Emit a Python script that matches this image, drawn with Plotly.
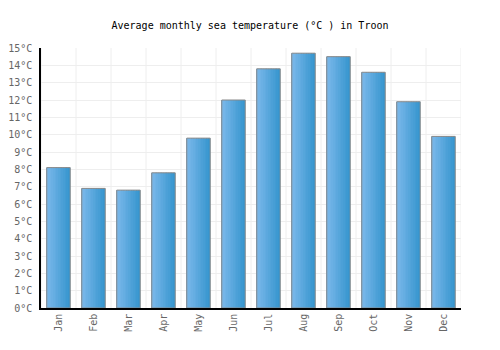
import plotly.graph_objects as go

months = ["Jan", "Feb", "Mar", "Apr", "May", "Jun", "Jul", "Aug", "Sep", "Oct", "Nov", "Dec"]
sea_temp = [8.1, 6.9, 6.8, 7.8, 9.8, 12.0, 13.8, 14.7, 14.5, 13.6, 11.9, 9.9]
y_ticks = list(range(0, 16))
y_labels = [f"{v}°C" for v in y_ticks]

fig = go.Figure()

# simulate horizontal gradient with thin slices
bar_w = 0.67
n = 14
c0 = (0x7a, 0xb8, 0xea)
c1 = (0x38, 0x96, 0xcf)
for k in range(n):
    t = k / (n - 1)
    col = "rgb(%d,%d,%d)" % tuple(round(a + (b - a) * t) for a, b in zip(c0, c1))
    fig.add_trace(go.Bar(
        x=months, y=sea_temp,
        width=bar_w / n + 0.002,
        offset=-bar_w / 2 + k * bar_w / n,
        marker=dict(color=col, line=dict(width=0)),
        hoverinfo="skip", showlegend=False,
    ))
fig.add_trace(go.Bar(
    x=months, y=sea_temp, width=bar_w, offset=-bar_w / 2,
    marker=dict(color="rgba(0,0,0,0)", line=dict(color="#888888", width=1)),
    showlegend=False,
))

font = "DejaVu Sans Mono"
fig.update_layout(
    barmode="overlay",
    width=500, height=350,
    margin=dict(l=41, r=39, t=48, b=42),
    paper_bgcolor="white", plot_bgcolor="white",
    title=dict(text="Average monthly sea temperature (°C ) in Troon",
               x=0.5, xanchor="center", y=1 - 25 / 350, yanchor="middle",
               font=dict(family=font, size=10, color="#000000")),
    xaxis=dict(
        type="category", tickangle=-90, automargin=False,
        tickfont=dict(family=font, size=10, color="#666666"),
        showgrid=False,
        showline=True, linecolor="#000000", linewidth=1.5,
        ticks="", range=[-0.5, 11.5],
    ),
    yaxis=dict(
        range=[0, 15], tickvals=y_ticks, ticktext=y_labels, automargin=False,
        tickfont=dict(family=font, size=10, color="#666666"),
        showgrid=True, gridcolor="#eeeeee", gridwidth=1,
        showline=True, linecolor="#000000", linewidth=1.5,
        zeroline=False, ticks="", ticklabelstandoff=5,
    ),
)
# vertical grid between categories
for i in range(13):
    fig.add_shape(type="line", xref="x", yref="paper", x0=i - 0.5, x1=i - 0.5, y0=0, y1=1,
                  line=dict(color="#eeeeee", width=1), layer="below")

fig.write_html("out.html")
